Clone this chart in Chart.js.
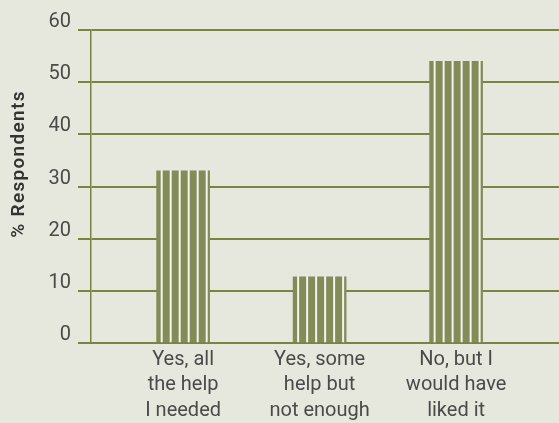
<!DOCTYPE html>
<html>
<head>
<meta charset="utf-8">
<script src="https://cdn.jsdelivr.net/npm/chart.js@4/dist/chart.umd.min.js"></script>
<style>
  html, body { margin: 0; padding: 0; background: #e7e8dd; }
  #wrap { width: 559px; height: 423px; position: relative; }
</style>
</head>
<body>
<div id="wrap"><canvas id="c" width="559" height="423"></canvas></div>
<script>
const categories = [
  ['Yes, all', 'the help', 'I needed'],
  ['Yes, some', 'help but', 'not enough'],
  ['No, but I', 'would have', 'liked it']
];
const percentValues = [33, 12.7, 54];
const yTicks = [0, 10, 20, 30, 40, 50, 60];
const yAxisTitle = '% Respondents';

const GREEN_BAR = '#838b58';
const GREEN_LINE = '#78843f';
const TEXT = '#4a4a4a';
const FONT = 'Roboto, "DejaVu Sans", sans-serif';

function stripePattern(ctx, x0) {
  const c = document.createElement('canvas');
  c.width = 9; c.height = 4;
  const g = c.getContext('2d');
  g.fillStyle = '#f4f4ee';
  g.fillRect(0, 0, 9, 4);
  g.fillStyle = GREEN_BAR;
  g.fillRect(0, 0, 7, 4);
  const p = ctx.createPattern(c, 'repeat');
  p.setTransform(new DOMMatrix().translateSelf(x0, 0));
  return p;
}

const titlePlugin = {
  id: 'yTitle',
  afterDraw(chart) {
    const ctx = chart.ctx;
    ctx.save();
    ctx.translate(19, 164);
    ctx.rotate(-Math.PI / 2);
    ctx.fillStyle = '#333';
    ctx.font = '600 19px ' + FONT;
    if ('letterSpacing' in ctx) ctx.letterSpacing = '1.3px';
    ctx.textAlign = 'center';
    ctx.textBaseline = 'middle';
    ctx.fillText(yAxisTitle, 0, 0);
    ctx.restore();
  }
};

const BAR_W = 53;

new Chart(document.getElementById('c'), {
  type: 'bar',
  data: {
    datasets: [{
      data: percentValues.map((v, i) => ({ x: i + 1, y: v })),
      barThickness: BAR_W,
      borderWidth: 0,
      backgroundColor: (ctx) => {
        const sx = ctx.chart.scales && ctx.chart.scales.x;
        if (!sx || ctx.dataIndex === undefined) return GREEN_BAR;
        const cx = sx.getPixelForValue(ctx.dataIndex + 1);
        return stripePattern(ctx.chart.ctx, cx - BAR_W / 2 - 3);
      }
    }]
  },
  plugins: [titlePlugin],
  options: {
    responsive: false,
    animation: false,
    devicePixelRatio: 1,
    layout: { padding: { top: 30, right: 0, bottom: 0, left: 0 } },
    plugins: { legend: { display: false }, tooltip: { enabled: false } },
    scales: {
      x: {
        type: 'linear',
        offset: false,
        min: 0.325,
        max: 3.754,
        z: 1,
        afterFit(s) { s.height = 80; },
        afterBuildTicks(s) { s.ticks = categories.map((c, i) => ({ value: i + 1 })); },
        grid: { display: false, drawTicks: false, offset: false },
        border: { display: true, color: GREEN_LINE, width: 2 },
        ticks: {
          padding: 4,
          maxRotation: 0,
          autoSkip: false,
          color: TEXT,
          font: { family: FONT, size: 20, lineHeight: 1.27 },
          callback: (v) => categories[v - 1]
        }
      },
      y: {
        min: 0,
        max: 60,
        afterFit(s) { s.width = 91; },
        afterBuildTicks(s) { s.ticks = yTicks.map(v => ({ value: v })); },
        grid: { color: GREEN_LINE, lineWidth: 2, tickLength: 13, drawTicks: true },
        border: { display: true, color: GREEN_LINE, width: 1.5 },
        ticks: {
          padding: 7,
          labelOffset: -8,
          color: TEXT,
          font: { family: FONT, size: 20 }
        }
      }
    }
  }
});
</script>
</body>
</html>
